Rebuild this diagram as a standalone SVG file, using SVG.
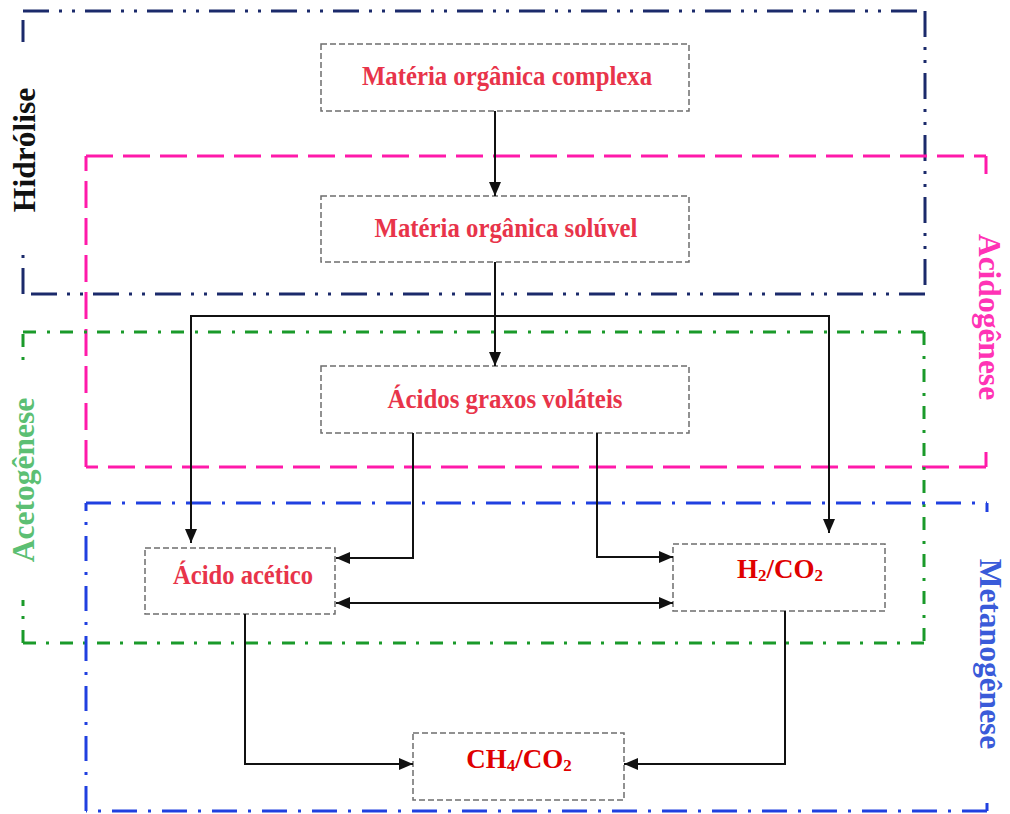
<svg xmlns="http://www.w3.org/2000/svg" width="1010" height="814" viewBox="0 0 1010 814">
<defs>
<marker id="ah" markerUnits="userSpaceOnUse" markerWidth="14" markerHeight="12" refX="14" refY="6" orient="auto-start-reverse" viewBox="0 0 14 12">
<path d="M0,0 L14,6 L0,12 z" fill="#111"/>
</marker>
<style>
.stage{fill:none;stroke-width:3;stroke-linecap:butt}
.hid{stroke:#1b2a6b;stroke-dasharray:26 10 3 10 3 10}
.aci{stroke:#ff1aaa;stroke-dasharray:27 10}
.ace{stroke:#1a9a2a;stroke-dasharray:13 11 3 10}
.met{stroke:#2040e0;stroke-dasharray:25 11 3 11}
.lbl{font-family:"Liberation Serif","Times New Roman",serif;font-weight:bold;font-size:31.5px;text-anchor:middle}
.bg{fill:#fff;stroke:none}
.node rect{fill:#fff;stroke:#6e6e6e;stroke-width:1.5;stroke-dasharray:6 3}
.node text{font-family:"Liberation Serif","Times New Roman",serif;font-weight:bold;font-size:27px;text-anchor:middle;fill:#e8344a}
.node text.red{fill:#e00000}
.conn path{fill:none;stroke:#111;stroke-width:2}
</style>
</defs>
<rect width="1010" height="814" fill="#fff"/>

<g id="stages">
<path class="stage hid" d="M23,11 H925 M925,11 V294 M925,294 H23 M23,294 V11"/>
<path class="stage aci" d="M86,156 H986 M986,156 V467 M986,467 H86 M86,467 V156"/>
<path class="stage ace" d="M23,332 H924 M924,332 V643 M924,643 H23 M23,643 V332"/>
<path class="stage met" d="M86,503 H987 M987,503 V811 M987,811 H86 M86,811 V503"/>
</g>

<g id="stage-labels">
<rect class="bg" x="6" y="42" width="36" height="211"/>
<rect class="bg" x="6" y="365" width="36" height="235"/>
<rect class="bg" x="971" y="174" width="36" height="278"/>
<rect class="bg" x="971" y="512" width="36" height="286"/>
<text class="lbl" fill="#111" transform="translate(35,150) rotate(-90)">Hidrólise</text>
<text class="lbl" fill="#5cbf73" transform="translate(34,480) rotate(-90)">Acetogênese</text>
<text class="lbl" fill="#ff33b5" transform="translate(979,317) rotate(90)">Acidogênese</text>
<text class="lbl" fill="#3a5bd9" transform="translate(980,654) rotate(90)">Metanogênese</text>
</g>

<g id="n-complexa" class="node">
<rect x="321" y="44" width="368" height="67"/>
<text x="507" y="85" textLength="290" lengthAdjust="spacingAndGlyphs">Matéria orgânica complexa</text>
</g>
<g id="n-soluvel" class="node">
<rect x="321" y="196" width="368" height="66"/>
<text x="506" y="237" textLength="263" lengthAdjust="spacingAndGlyphs">Matéria orgânica solúvel</text>
</g>
<g id="n-agv" class="node">
<rect x="321" y="366" width="368" height="67"/>
<text x="505" y="408" textLength="235" lengthAdjust="spacingAndGlyphs">Ácidos graxos voláteis</text>
</g>
<g id="n-acetico" class="node">
<rect x="145" y="548" width="190" height="66"/>
<text x="243" y="584" textLength="140" lengthAdjust="spacingAndGlyphs">Ácido acético</text>
</g>
<g id="n-h2co2" class="node">
<rect x="673" y="544" width="212" height="67"/>
<text class="red" x="780" y="578">H<tspan font-size="17" dy="3">2</tspan><tspan dy="-3">/CO</tspan><tspan font-size="17" dy="3">2</tspan></text>
</g>
<g id="n-ch4co2" class="node">
<rect x="413" y="733" width="211" height="67"/>
<text class="red" x="519" y="768">CH<tspan font-size="17" dy="3">4</tspan><tspan dy="-3">/CO</tspan><tspan font-size="17" dy="3">2</tspan></text>
</g>

<g id="connectors" class="conn">
<path d="M495,111 V196" marker-end="url(#ah)"/>
<path d="M495,262 V366" marker-end="url(#ah)"/>
<path d="M495,316 H191 V543" marker-end="url(#ah)"/>
<path d="M495,316 H829 V533" marker-end="url(#ah)"/>
<path d="M413,433 V558 H336" marker-end="url(#ah)"/>
<path d="M597,433 V557 H673" marker-end="url(#ah)"/>
<path d="M336,603 H673" marker-start="url(#ah)" marker-end="url(#ah)"/>
<path d="M245,614 V764 H413" marker-end="url(#ah)"/>
<path d="M785,611 V764 H624" marker-end="url(#ah)"/>
</g>
</svg>
